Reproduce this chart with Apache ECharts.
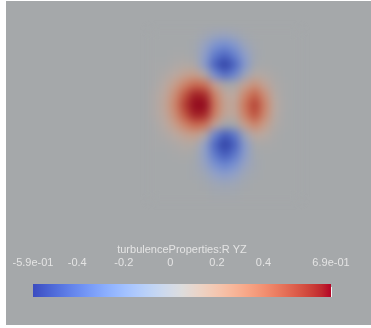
<!DOCTYPE html>
<html><head><meta charset="utf-8">
<script src="https://cdn.jsdelivr.net/npm/echarts@6/dist/echarts.min.js"></script>
<style>
html,body{margin:0;padding:0;background:#fff;width:371px;height:328px;overflow:hidden}
#main{position:absolute;left:6px;top:1px;width:365px;height:324px}
#field{position:absolute;left:150px;top:30px;width:150px;height:170px;filter:blur(4px)}
</style></head><body>
<div id="main"></div><div id="field"></div>
<script>
// ---- data ----
const scalarTitle = 'turbulenceProperties:R YZ';
const rangeMin = -0.59;
const rangeMax = 0.69;
const tickValues = [-0.59, -0.4, -0.2, 0, 0.2, 0.4, 0.69];
const tickLabels = ['-5.9e-01', '-0.4', '-0.2', '0', '0.2', '0.4', '6.9e-01'];
// sample columns / rows of the slice
const fieldX = ['c0','c1','c2','c3','c4','c5','c6','c7','c8','c9','c10','c11','c12','c13','c14'];
const fieldY = ['r0','r1','r2','r3','r4','r5','r6','r7','r8','r9','r10','r11','r12','r13','r14','r15','r16'];
const fieldValues = [
  [0,0,0,0,0,-0.02,-0.05,-0.06,-0.04,-0.01,0,0,0,0,0],
  [0,0,0,0,-0.01,-0.07,-0.17,-0.21,-0.15,-0.05,-0.01,0,0,0,0],
  [0,0,0.01,0.01,-0.01,-0.11,-0.3,-0.39,-0.27,-0.11,-0.02,0,0,0,0],
  [0.01,0.01,0.03,0.05,0.03,-0.13,-0.42,-0.57,-0.4,-0.15,-0.01,0.01,0,0,0],
  [0.01,0.04,0.09,0.15,0.18,0.06,-0.21,-0.36,-0.25,-0.05,0.07,0.05,0.02,0,0],
  [0.02,0.08,0.18,0.31,0.41,0.38,0.16,0.02,0.02,0.15,0.24,0.14,0.04,0.01,0],
  [0.04,0.11,0.26,0.47,0.63,0.6,0.31,0.12,0.1,0.29,0.43,0.25,0.07,0.01,0],
  [0.04,0.13,0.3,0.54,0.69,0.69,0.36,0.15,0.13,0.36,0.54,0.31,0.09,0.02,0],
  [0.04,0.11,0.26,0.47,0.63,0.61,0.32,0.13,0.11,0.32,0.49,0.28,0.08,0.01,0],
  [0.02,0.08,0.18,0.31,0.41,0.38,0.14,-0.01,0,0.18,0.3,0.18,0.05,0.01,0],
  [0.01,0.04,0.09,0.15,0.18,0.07,-0.25,-0.44,-0.32,-0.04,0.11,0.08,0.02,0,0],
  [0.01,0.01,0.03,0.06,0.05,-0.09,-0.39,-0.57,-0.42,-0.13,0.01,0.02,0.01,0,0],
  [0,0,0.01,0.02,0,-0.1,-0.31,-0.44,-0.32,-0.12,-0.01,0,0,0,0],
  [0,0,0,0,-0.01,-0.07,-0.19,-0.26,-0.19,-0.07,-0.02,0,0,0,0],
  [0,0,0,0,-0.01,-0.03,-0.09,-0.12,-0.09,-0.03,-0.01,0,0,0,0],
  [0,0,0,0,0,-0.01,-0.03,-0.04,-0.03,-0.01,0,0,0,0,0],
  [0,0,0,0,0,0,-0.01,-0.01,-0.01,0,0,0,0,0,0]
];
// ---- styles ----
const coolWarm = [
  [59,76,192],[68,90,204],[77,104,215],[87,117,225],[98,130,234],[108,142,241],[119,154,247],[130,165,251],
  [141,176,254],[152,185,255],[163,194,255],[174,201,253],[184,208,249],[194,213,244],[204,217,238],[213,219,230],
  [221,221,221],[229,216,209],[236,211,197],[241,204,185],[245,196,173],[247,187,160],[247,177,148],[247,166,135],
  [244,154,123],[241,141,111],[236,127,99],[229,112,88],[222,96,77],[213,80,66],[203,62,56],[192,40,47],[180,4,38]
];
const fieldColors = ['#2d3ca0','#3c52b4','#4e67c3','#627dcd','#7891d2','#91a0c8','#a5a8aa',
  '#bba9a0','#c89b87','#cd876c','#cb6e52','#be503c','#aa2d2a','#91081e'];
const BG = '#a5a8aa';
const TXT = '#e4e4e4';
const FONT = '"Liberation Sans", Arial, sans-serif';

const stops = coolWarm.map((c, i) => ({offset: i / (coolWarm.length - 1), color: 'rgb(' + c.join(',') + ')'}));

const main = echarts.init(document.getElementById('main'), null, {renderer: 'canvas'});
main.setOption({
  animation: false,
  backgroundColor: BG,
  grid: {left: 27, width: 298, top: 283, height: 13},
  xAxis: {
    type: 'value', min: rangeMin, max: rangeMax, position: 'top',
    name: scalarTitle, nameLocation: 'middle', nameGap: 29,
    nameTextStyle: {color: TXT, fontSize: 11, fontFamily: FONT},
    axisLine: {show: false}, splitLine: {show: false},
    axisTick: {show: true, customValues: tickValues, length: 10, lineStyle: {color: '#f2f2f2', width: 1}},
    axisLabel: {
      customValues: tickValues, margin: 16, color: TXT, fontSize: 11, fontFamily: FONT,
      formatter: v => {
        let best = 0;
        tickValues.forEach((t, i) => { if (Math.abs(t - v) < Math.abs(tickValues[best] - v)) best = i; });
        return tickLabels[best];
      }
    }
  },
  yAxis: {type: 'value', min: 0, max: 1, show: false},
  series: [{
    type: 'custom', coordinateSystem: 'cartesian2d',
    data: [[rangeMin, rangeMax]], encode: {x: [0, 1]},
    renderItem: (params, api) => {
      const p0 = api.coord([api.value(0), 1]);
      const p1 = api.coord([api.value(1), 0]);
      return {type: 'rect', shape: {x: p0[0], y: p0[1], width: p1[0] - p0[0], height: p1[1] - p0[1]},
        style: {fill: new echarts.graphic.LinearGradient(0, 0, 1, 0, stops)}};
    }
  }]
});

const heat = [];
fieldValues.forEach((row, r) => row.forEach((v, c) => heat.push([c, r, v])));
const field = echarts.init(document.getElementById('field'), null, {renderer: 'canvas'});
field.setOption({
  animation: false,
  grid: {left: 0, right: 0, top: 0, bottom: 0},
  xAxis: {type: 'category', data: fieldX, show: false},
  yAxis: {type: 'category', data: fieldY, show: false, inverse: true},
  visualMap: {show: false, min: rangeMin, max: rangeMax, dimension: 2, inRange: {color: fieldColors}},
  series: [{type: 'heatmap', data: heat, itemStyle: {borderWidth: 0}, emphasis: {disabled: true}, progressive: 0}]
});
</script></body></html>
